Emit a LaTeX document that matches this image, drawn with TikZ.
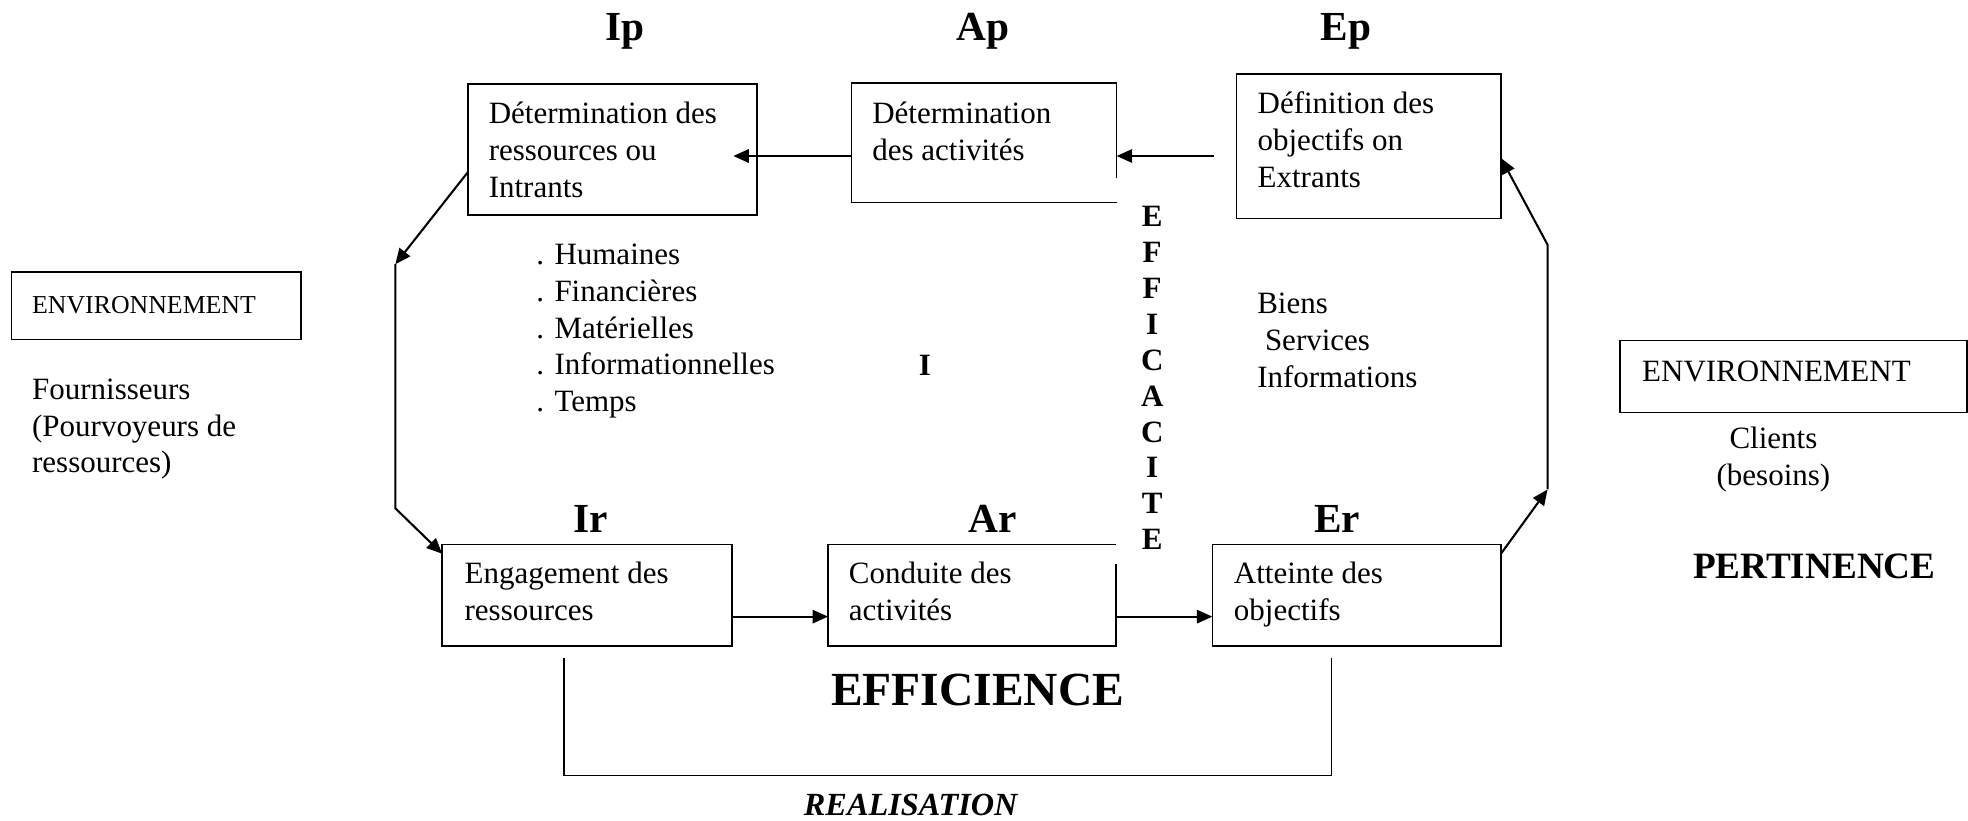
\documentclass[tikz,border=0pt]{standalone}
\usepackage{fontspec}
\setmainfont{Liberation Serif}
\usetikzlibrary{arrows.meta,fit,calc}
\newcommand\mlines[1]{\begin{tabular}[t]{@{}l@{}}#1\end{tabular}}
\newcommand\clines[1]{\begin{tabular}[t]{@{}c@{}}#1\end{tabular}}
\begin{document}
\begin{tikzpicture}[x=0.486pt,y=-0.486pt,
  box/.style={draw, line width=0.6pt, inner sep=0pt, outer sep=0pt},
  frame/.style={inner sep=0pt, outer sep=0pt},
  boxline/.style={line width=0.6pt},
  arr/.style={line width=0.8pt, -{Triangle[length=6pt,width=5.2pt]}},
  thinline/.style={line width=0.5pt},
  txt/.style={inner sep=0pt, anchor=base west, font=\fontsize{12}{14.3}\selectfont},
  ctxt/.style={inner sep=0pt, anchor=base, font=\fontsize{12}{14.3}\selectfont},
  lbl/.style={inner sep=0pt, anchor=base, font=\bfseries\fontsize{16}{19}\selectfont}]
\useasboundingbox (0,0) rectangle (1568,654);

% stage labels
\node[lbl] (lip) at (498,32) {Ip};
\node[lbl] (lap) at (783.5,32) {Ap};
\node[lbl] (lep) at (1072.5,32) {Ep};
\node[lbl] (lir) at (470.5,424) {Ir};
\node[lbl] (lar) at (791,424) {Ar};
\node[lbl] (ler) at (1065.5,424) {Er};

% boxes
\node[box, fit={(373,67)(603,171.3)}] (ip) {};
\node[frame, fit={(678.5,66)(889.7,161.2)}] (ap) {};
\draw[boxline] ($(ap.south east)+(0,-19)$) -- (ap.north east) -- (ap.north west) -- (ap.south west) -- (ap.south east);
\node[box, fit={(985.3,59)(1196,174)}] (ep) {};
\node[box, fit={(352.3,433.7)(583.2,514.7)}] (ir) {};
\node[frame, fit={(659.7,433.7)(889.3,514.7)}] (ar) {};
\draw[boxline] ($(ar.north east)+(0,15.7)$) -- (ar.south east) -- (ar.south west) -- (ar.north west) -- (ar.north east);
\node[box, fit={(965.9,433.7)(1195.9,514.7)}] (er) {};
\node[box, fit={(9.3,216.5)(239.6,270.4)}] (envl) {};
\node[box, fit={(1290.7,271.4)(1567,328.5)}] (envr) {};

% box texts
\node[txt] (tip) at (389,98.3) {\mlines{Détermination des\\ressources ou\\Intrants}};
\node[txt] (tap) at (694.6,98.3) {\mlines{Détermination\\des activités}};
\node[txt] (tep) at (1001.6,90.3) {\mlines{Définition des\\objectifs on\\Extrants}};
\node[txt] (tir) at (369.8,464.8) {\mlines{Engagement des\\ressources}};
\node[txt] (tar) at (676,464.8) {\mlines{Conduite des\\activités}};
\node[txt] (ter) at (982.7,464.8) {\mlines{Atteinte des\\objectifs}};
\node[txt, font=\fontsize{10}{12}\selectfont] (tenvl) at (25.2,249.7) {ENVIRONNEMENT};
\node[txt] (tenvr) at (1308,303.6) {ENVIRONNEMENT};

% free texts
\node[txt] (list) at (427,210.5) {\mlines{. Humaines\\. Financières\\. Matérielles\\. Informationnelles\\. Temps}};
\node[txt] (biens) at (1001.3,250) {\mlines{Biens\\\hspace*{3pt}Services\\Informations}};
\node[txt] (fourn) at (25.2,318) {\mlines{Fournisseurs\\(Pourvoyeurs de\\ressources)}};
\node[ctxt] (clients) at (1413,357) {\clines{Clients\\(besoins)}};
\node[inner sep=0pt, anchor=base, font=\bfseries\fontsize{12}{14.3}\selectfont] (bigI) at (737,298.8) {I};
\node[inner sep=0pt, anchor=base, font=\bfseries\fontsize{12}{13.9}\selectfont] (effic) at (918,180.6) {\clines{E\\F\\F\\I\\C\\A\\C\\I\\T\\E}};
\node[inner sep=0pt, anchor=base, font=\bfseries\fontsize{18.4}{22}\selectfont] (effi) at (779,562) {EFFICIENCE};
\node[inner sep=0pt, anchor=base, font=\bfseries\fontsize{14.4}{17}\selectfont] (pert) at (1445.5,460.8) {PERTINENCE};
\node[inner sep=0pt, anchor=base, font=\bfseries\itshape\fontsize{12.5}{15}\selectfont] (real) at (725.6,649.5) {REALISATION};

% top arrows
\coordinate (ty) at (967,124.3);
\coordinate (tipIp) at (584.3,124.3);
\draw[arr] (ty) -- (ty -| ap.east);
\draw[arr] (ty -| ap.west) -- (tipIp);

% left loop
\coordinate (l1) at (315,210.5);
\coordinate (l2) at (315,405);
\draw[arr] ($(ip.west)+(0,17.7)$) -- (l1);
\draw[arr] (l1) -- (l2) -- ($(ir.north west)+(0,7.5)$);

% right loop
\coordinate (r1) at (1233,390);
\coordinate (r2) at (1233,195);
\draw[arr] ($(er.north east)+(0,7.5)$) -- (r1);
\draw[arr] (r1) -- (r2) -- ($(ep.east)+(0,9.5)$);

% bottom arrows
\coordinate (by) at (0,491.3);
\draw[arr] (by -| ir.east) -- (by -| ar.west);
\draw[arr] (by -| ar.east) -- (by -| er.west);

% bracket
\coordinate (k1) at (449.4,524);
\coordinate (k2) at (1061,524);
\coordinate (kb) at (0,618);
\draw[thinline] (k1) -- (k1 |- kb) -- (k2 |- kb) -- (k2);
\end{tikzpicture}
\end{document}
